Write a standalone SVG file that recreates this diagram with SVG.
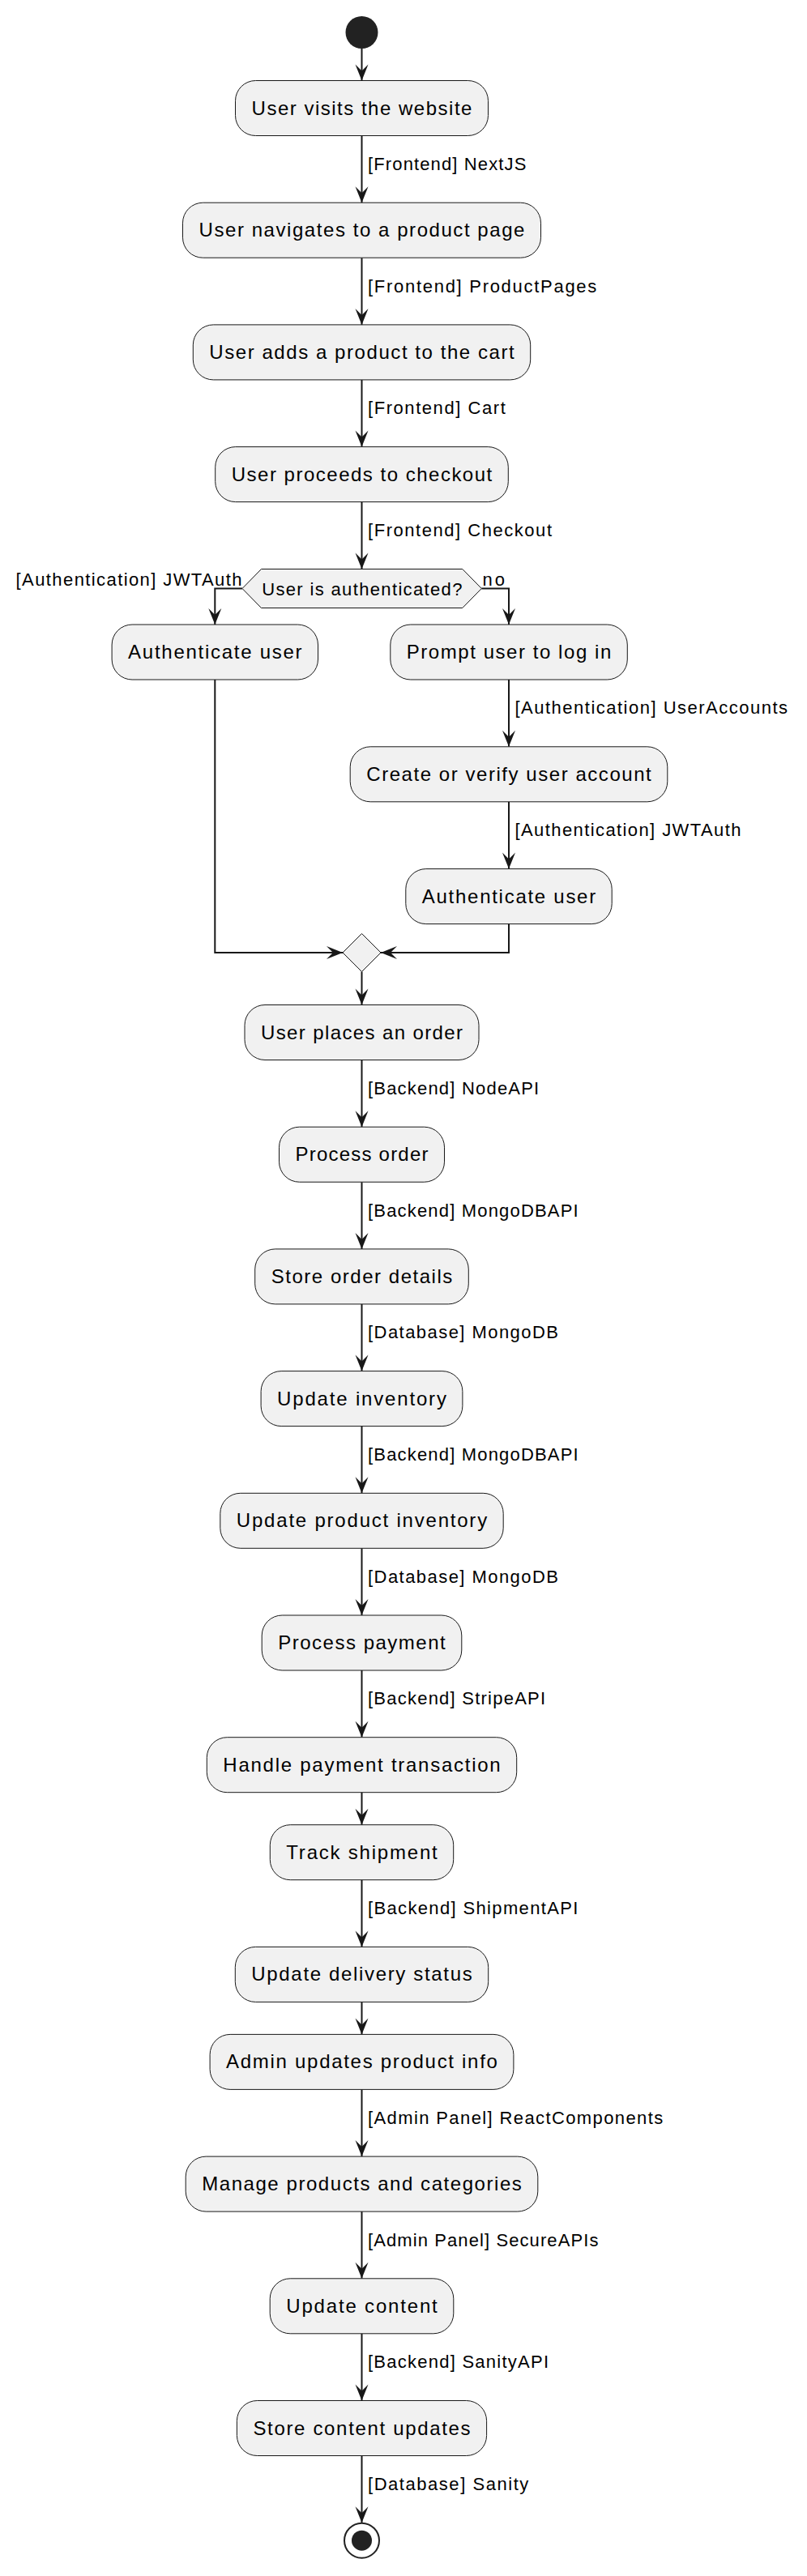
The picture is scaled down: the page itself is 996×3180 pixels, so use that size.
<svg xmlns="http://www.w3.org/2000/svg" width="996" height="3180" viewBox="0 0 996 3180">
<style>
.box{fill:#F1F1F1;stroke:#181818;stroke-width:1}
.t{font-family:"Liberation Sans",Arial,sans-serif;font-size:24px;fill:#000;text-anchor:middle}
.l{font-family:"Liberation Sans",Arial,sans-serif;font-size:22px;fill:#000}
.c{fill:none;stroke:#181818;stroke-width:2;marker-end:url(#arr)}
</style>
<defs>
<marker id="arr" viewBox="-21 -9 22 18" refX="0" refY="0" markerWidth="22" markerHeight="18" markerUnits="userSpaceOnUse" orient="auto">
<path d="M0,0 L-20,-8 L-12,0 L-20,8 Z" fill="#181818"/>
</marker>
</defs>
<rect width="996" height="3180" fill="#FFFFFF"/>
<g id="connectors">
<path class="c" d="M446.5,60 V99.5"/>
<path class="c" d="M446.5,167.5 V250.2"/>
<path class="c" d="M446.5,318.2 V400.9"/>
<path class="c" d="M446.5,468.9 V551.6"/>
<path class="c" d="M446.5,619.6 V702.5"/>
<path class="c" d="M299,726.5 H265.3 V771"/>
<path class="c" d="M594.3,726.5 H628 V771"/>
<path class="c" d="M628,839 V921.8"/>
<path class="c" d="M628,989.8 V1072.6"/>
<path class="c" d="M265.3,839 V1176 H423"/>
<path class="c" d="M628,1140.6 V1176 H470"/>
<path class="c" d="M446.5,1199.5 V1240.5"/>
<path class="c" d="M446.5,1308.5 V1391.2"/>
<path class="c" d="M446.5,1459.2 V1541.9"/>
<path class="c" d="M446.5,1609.9 V1692.6"/>
<path class="c" d="M446.5,1760.6 V1843.3"/>
<path class="c" d="M446.5,1911.3 V1994"/>
<path class="c" d="M446.5,2062 V2144.7"/>
<path class="c" d="M446.5,2212.7 V2252.7"/>
<path class="c" d="M446.5,2320.7 V2403.4"/>
<path class="c" d="M446.5,2471.4 V2511.4"/>
<path class="c" d="M446.5,2579.4 V2662.1"/>
<path class="c" d="M446.5,2730.1 V2812.8"/>
<path class="c" d="M446.5,2880.8 V2963.5"/>
<path class="c" d="M446.5,3031.5 V3114.2"/>
<text class="l" x="454" y="209.9" textLength="195.4" lengthAdjust="spacing">[Frontend] NextJS</text>
<text class="l" x="454" y="360.6" textLength="282.3" lengthAdjust="spacing">[Frontend] ProductPages</text>
<text class="l" x="454" y="511.3" textLength="169.8" lengthAdjust="spacing">[Frontend] Cart</text>
<text class="l" x="454" y="662" textLength="227" lengthAdjust="spacing">[Frontend] Checkout</text>
<text class="l" x="19.6" y="723" textLength="278.9" lengthAdjust="spacing">[Authentication] JWTAuth</text>
<text class="l" x="595.5" y="722.5" textLength="27.4" lengthAdjust="spacing">no</text>
<text class="l" x="635.5" y="881.4" textLength="336.5" lengthAdjust="spacing">[Authentication] UserAccounts</text>
<text class="l" x="635.5" y="1032.2" textLength="278.9" lengthAdjust="spacing">[Authentication] JWTAuth</text>
<text class="l" x="454" y="1350.9" textLength="211.2" lengthAdjust="spacing">[Backend] NodeAPI</text>
<text class="l" x="454" y="1501.6" textLength="259.7" lengthAdjust="spacing">[Backend] MongoDBAPI</text>
<text class="l" x="454" y="1652.3" textLength="235" lengthAdjust="spacing">[Database] MongoDB</text>
<text class="l" x="454" y="1803" textLength="259.7" lengthAdjust="spacing">[Backend] MongoDBAPI</text>
<text class="l" x="454" y="1953.7" textLength="235" lengthAdjust="spacing">[Database] MongoDB</text>
<text class="l" x="454" y="2104.4" textLength="219.1" lengthAdjust="spacing">[Backend] StripeAPI</text>
<text class="l" x="454" y="2363.1" textLength="259.4" lengthAdjust="spacing">[Backend] ShipmentAPI</text>
<text class="l" x="454" y="2621.8" textLength="364.2" lengthAdjust="spacing">[Admin Panel] ReactComponents</text>
<text class="l" x="454" y="2772.5" textLength="284.4" lengthAdjust="spacing">[Admin Panel] SecureAPIs</text>
<text class="l" x="454" y="2923.2" textLength="223" lengthAdjust="spacing">[Backend] SanityAPI</text>
<text class="l" x="454" y="3073.9" textLength="198.3" lengthAdjust="spacing">[Database] Sanity</text>
</g>
<g id="start"><circle cx="446.5" cy="40" r="20" fill="#222222"/></g>
<g id="n1"><rect class="box" x="290.5" y="99.5" width="312" height="68" rx="25"/><text class="t" x="446.5" y="141.5" textLength="271.9" lengthAdjust="spacing">User visits the website</text></g>
<g id="n2"><rect class="box" x="225.5" y="250.2" width="442" height="68" rx="25"/><text class="t" x="446.5" y="292.2" textLength="401.9" lengthAdjust="spacing">User navigates to a product page</text></g>
<g id="n3"><rect class="box" x="238.3" y="400.9" width="416.4" height="68" rx="25"/><text class="t" x="446.5" y="442.9" textLength="376.4" lengthAdjust="spacing">User adds a product to the cart</text></g>
<g id="n4"><rect class="box" x="265.7" y="551.6" width="361.6" height="68" rx="25"/><text class="t" x="446.5" y="593.6" textLength="321.5" lengthAdjust="spacing">User proceeds to checkout</text></g>
<g id="d1"><polygon class="box" points="299,726.5 322.5,702.5 570.8,702.5 594.3,726.5 570.8,750.5 322.5,750.5"/><text class="l" x="446.8" y="735" text-anchor="middle" textLength="247.3" lengthAdjust="spacing">User is authenticated?</text></g>
<g id="n5"><rect class="box" x="138.1" y="771" width="254.4" height="68" rx="25"/><text class="t" x="265.3" y="813" textLength="214.4" lengthAdjust="spacing">Authenticate user</text></g>
<g id="n6"><rect class="box" x="481.8" y="771" width="292.5" height="68" rx="25"/><text class="t" x="628" y="813" textLength="252.5" lengthAdjust="spacing">Prompt user to log in</text></g>
<g id="n7"><rect class="box" x="432.2" y="921.8" width="391.6" height="68" rx="25"/><text class="t" x="628" y="963.8" textLength="351.5" lengthAdjust="spacing">Create or verify user account</text></g>
<g id="n8"><rect class="box" x="500.8" y="1072.6" width="254.4" height="68" rx="25"/><text class="t" x="628" y="1114.6" textLength="214.4" lengthAdjust="spacing">Authenticate user</text></g>
<g id="merge"><polygon class="box" points="446.5,1152.5 470,1176 446.5,1199.5 423,1176"/></g>
<g id="n9"><rect class="box" x="302" y="1240.5" width="289" height="68" rx="25"/><text class="t" x="446.5" y="1282.5" textLength="249" lengthAdjust="spacing">User places an order</text></g>
<g id="n10"><rect class="box" x="344.5" y="1391.2" width="204" height="68" rx="25"/><text class="t" x="446.5" y="1433.2" textLength="164" lengthAdjust="spacing">Process order</text></g>
<g id="n11"><rect class="box" x="314.7" y="1541.9" width="263.6" height="68" rx="25"/><text class="t" x="446.5" y="1583.9" textLength="223.6" lengthAdjust="spacing">Store order details</text></g>
<g id="n12"><rect class="box" x="322.1" y="1692.6" width="248.8" height="68" rx="25"/><text class="t" x="446.5" y="1734.6" textLength="208.8" lengthAdjust="spacing">Update inventory</text></g>
<g id="n13"><rect class="box" x="271.8" y="1843.3" width="349.4" height="68" rx="25"/><text class="t" x="446.5" y="1885.3" textLength="309.3" lengthAdjust="spacing">Update product inventory</text></g>
<g id="n14"><rect class="box" x="323.2" y="1994" width="246.6" height="68" rx="25"/><text class="t" x="446.5" y="2036" textLength="206.5" lengthAdjust="spacing">Process payment</text></g>
<g id="n15"><rect class="box" x="255.3" y="2144.7" width="382.4" height="68" rx="25"/><text class="t" x="446.5" y="2186.7" textLength="342.4" lengthAdjust="spacing">Handle payment transaction</text></g>
<g id="n16"><rect class="box" x="333.3" y="2252.7" width="226.4" height="68" rx="25"/><text class="t" x="446.5" y="2294.7" textLength="186.4" lengthAdjust="spacing">Track shipment</text></g>
<g id="n17"><rect class="box" x="290.3" y="2403.4" width="312.4" height="68" rx="25"/><text class="t" x="446.5" y="2445.4" textLength="272.3" lengthAdjust="spacing">Update delivery status</text></g>
<g id="n18"><rect class="box" x="259.1" y="2511.4" width="374.8" height="68" rx="25"/><text class="t" x="446.5" y="2553.4" textLength="334.8" lengthAdjust="spacing">Admin updates product info</text></g>
<g id="n19"><rect class="box" x="229.2" y="2662.1" width="434.6" height="68" rx="25"/><text class="t" x="446.5" y="2704.1" textLength="394.6" lengthAdjust="spacing">Manage products and categories</text></g>
<g id="n20"><rect class="box" x="333.2" y="2812.8" width="226.6" height="68" rx="25"/><text class="t" x="446.5" y="2854.8" textLength="186.5" lengthAdjust="spacing">Update content</text></g>
<g id="n21"><rect class="box" x="292.4" y="2963.5" width="308.2" height="68" rx="25"/><text class="t" x="446.5" y="3005.5" textLength="268.2" lengthAdjust="spacing">Store content updates</text></g>
<g id="end"><circle cx="446.5" cy="3136.2" r="21.5" fill="none" stroke="#222222" stroke-width="2"/><circle cx="446.5" cy="3136.2" r="12.5" fill="#222222"/></g>
</svg>
